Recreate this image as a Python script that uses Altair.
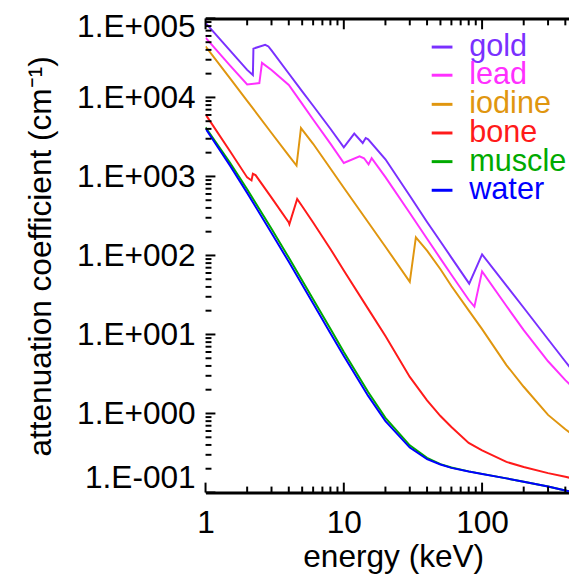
import altair as alt
import pandas as pd

FONT = "Liberation Sans"

materials = ["gold", "lead", "iodine", "bone", "muscle", "water"]
colors = ["#7a30ff", "#ff30ff", "#e0960f", "#ff1a1a", "#00aa00", "#0000ff"]

# energies in keV, attenuation coefficients in cm^-1
gold_e = [1, 1.5, 2, 2.2, 2.22, 2.7, 2.85, 3, 4, 5, 6, 8, 10, 11.9, 13.7, 14.4, 15, 20, 30, 40, 50, 60, 80.7, 100, 150, 200, 300, 400, 500]
gold_mu = [88000, 39500, 22300, 19200, 41500, 46400, 44200, 39400, 20100, 11950, 7850, 4015, 2330, 3480, 2650, 3070, 2950, 1650, 570, 265, 150, 94, 44, 103, 41.6, 21.8, 8.7, 4.55, 2.75]

lead_e = [1, 1.5, 2, 2.45, 2.56, 3, 4, 5, 6, 8, 10, 13.0, 14.0, 15.1, 15.9, 20, 30, 40, 50, 60, 80, 88, 100, 150, 200, 300, 400, 500]
lead_mu = [57000, 25500, 14600, 15200, 27400, 22300, 14400, 8300, 5260, 2600, 1480, 1800, 1700, 1420, 1700, 980, 344, 163, 91.3, 57.0, 27.5, 22.5, 63, 22.9, 11.33, 4.58, 2.64, 1.83]

iodine_e = [1, 1.5, 2, 3, 4, 4.55, 4.9, 6, 8, 10, 15, 20, 30, 33.2, 40, 50, 60, 80, 100, 150, 200, 300, 400, 500]
iodine_mu = [44300, 17550, 9070, 3550, 1830, 1373, 4100, 2590, 1260, 720, 263, 129, 46.4, 169.6, 115, 67, 41, 20.2, 11.7, 4.1, 2.18, 0.96, 0.63, 0.47]

bone_e = [1, 1.5, 2, 2.15, 2.2, 2.3, 3, 4, 4.04, 4.6, 5, 6, 8, 10, 15, 20, 30, 40, 50, 60, 80, 100, 150, 200, 300, 400, 500]
bone_mu = [6100, 2095, 972, 890, 1080, 1040, 539, 261, 249, 520, 420, 261, 121, 64.6, 21.1, 9.55, 2.9, 1.47, 0.928, 0.676, 0.424, 0.342, 0.244, 0.21, 0.176, 0.158, 0.145]

muscle_e = [1, 1.5, 2, 3, 4, 5, 6, 8, 10, 15, 20, 30, 40, 50, 60, 80, 100, 150, 200, 300, 400, 500]
muscle_mu = [4200, 1500, 690, 218, 94, 48.3, 27.9, 11.8, 6.0, 1.87, 0.88, 0.395, 0.275, 0.229, 0.207, 0.185, 0.172, 0.151, 0.137, 0.119, 0.106, 0.097]

water_e = [1, 1.5, 2, 3, 4, 5, 6, 8, 10, 15, 20, 30, 40, 50, 60, 80, 100, 150, 200, 300, 400, 500]
water_mu = [4050, 1380, 620, 193, 83, 42.6, 24.6, 10.4, 5.33, 1.67, 0.80, 0.37, 0.265, 0.226, 0.205, 0.184, 0.171, 0.151, 0.137, 0.119, 0.106, 0.097]

x_tick_values = [1, 10, 100]
x_tick_labels = ["1", "10", "100"]
x_minor_ticks = [2, 3, 4, 5, 6, 7, 8, 9, 20, 30, 40, 50, 60, 70, 80, 90, 200, 300, 400]
y_tick_values = [0.1, 1, 10, 100, 1000, 10000, 100000]
y_tick_labels = ["1.E-001", "1.E+000", "1.E+001", "1.E+002", "1.E+003", "1.E+004", "1.E+005"]
y_minor_ticks = [m * 10.0 ** k for k in range(-1, 5) for m in range(2, 10)]

x_title = "energy (keV)"
y_title = "attenuation coefficient (cm\u207b\u00b9)"

legend_y = [13.5, 42.0, 71.5, 100.5, 129.5, 158.5]

X_MAX = 425.2
W, H = 368, 480

series = {
    "gold": (gold_e, gold_mu),
    "lead": (lead_e, lead_mu),
    "iodine": (iodine_e, iodine_mu),
    "bone": (bone_e, bone_mu),
    "muscle": (muscle_e, muscle_mu),
    "water": (water_e, water_mu),
}

xs = alt.Scale(type="log", domain=[1, X_MAX], nice=False)
ys = alt.Scale(type="log", domain=[0.1, 100000], nice=False)


def label_expr(values, labels):
    vals = ",".join(str(v) for v in values)
    labs = ",".join("'" + l + "'" for l in labels)
    return f"[{labs}][indexof([{vals}], datum.value)]"


layers = []
for name, col, ly in zip(materials, colors, legend_y):
    es, ms = series[name]
    d = pd.DataFrame({"energy": es, "mu": ms, "material": name, "idx": list(range(len(es)))})
    layers.append(
        alt.Chart(d).mark_line(clip=True, strokeWidth=2).encode(
            x=alt.X("energy:Q", scale=xs, axis=None),
            y=alt.Y("mu:Q", scale=ys, axis=None),
            order=alt.Order("idx:Q"),
            color=alt.Color(
                "material:N",
                scale=alt.Scale(domain=[name], range=[col]),
                legend=alt.Legend(
                    orient="none", legendX=224, legendY=ly, title=None,
                    labelColor=col, labelFont=FONT, labelFontSize=31,
                    symbolType="stroke", symbolStrokeWidth=3, symbolSize=441,
                    labelOffset=12, padding=0,
                ),
            ),
        )
    )

bottom_axis = alt.Axis(
    orient="bottom", values=x_tick_values, labelExpr=label_expr(x_tick_values, x_tick_labels),
    labelFont=FONT, labelFontSize=32, labelColor="black", labelPadding=16, labelFlush=False,
    labelOverlap=False, ticks=False, tickSize=0, grid=False, domainColor="black", domainWidth=3,
    title=x_title, titleFont=FONT, titleFontSize=32, titleFontWeight="normal",
    titleColor="black", titleX=190, titleY=75, titleAlign="center", titleBaseline="alphabetic",
)
top_axis = alt.Axis(orient="top", labels=False, ticks=False, tickSize=0, grid=False,
                    domainColor="black", domainWidth=3, title=None)
left_axis = alt.Axis(orient="left", labels=False, ticks=False, tickSize=0, grid=False,
                     domainColor="black", domainWidth=3, title=None)

xmaj = pd.DataFrame({"v": x_tick_values})
xmin = pd.DataFrame({"v": x_minor_ticks})
ymaj = pd.DataFrame({"v": y_tick_values})
ymin = pd.DataFrame({"v": y_minor_ticks})
ylab = pd.DataFrame({"v": y_tick_values, "label": y_tick_labels})

rule = dict(color="black", strokeWidth=2)
layers += [
    alt.Chart(xmaj).mark_rule(**rule).encode(x=alt.X("v:Q", scale=xs, axis=bottom_axis), y=alt.value(H), y2=alt.value(H - 10)),
    alt.Chart(xmin).mark_rule(**rule).encode(x=alt.X("v:Q", scale=xs, axis=None), y=alt.value(H), y2=alt.value(H - 6)),
    alt.Chart(xmaj).mark_rule(**rule).encode(x=alt.X("v:Q", scale=xs, axis=top_axis), y=alt.value(0), y2=alt.value(11)),
    alt.Chart(xmin).mark_rule(**rule).encode(x=alt.X("v:Q", scale=xs, axis=None), y=alt.value(0), y2=alt.value(7)),
    alt.Chart(ymaj).mark_rule(**rule).encode(y=alt.Y("v:Q", scale=ys, axis=left_axis), x=alt.value(0), x2=alt.value(10)),
    alt.Chart(ymin).mark_rule(**rule).encode(y=alt.Y("v:Q", scale=ys, axis=None), x=alt.value(0), x2=alt.value(6)),
]

# y tick labels (first and last kept flush inside the axis span)
ymax_v, ymin_v = max(y_tick_values), min(y_tick_values)
text_style = dict(font=FONT, fontSize=32, color="black", align="right")
layers += [
    alt.Chart(ylab).transform_filter(f"datum.v > {ymin_v} && datum.v < {ymax_v}")
    .mark_text(baseline="middle", dy=1, **text_style)
    .encode(y=alt.Y("v:Q", scale=ys, axis=None), x=alt.value(-10), text="label:N"),
    alt.Chart(ylab).transform_filter(f"datum.v == {ymax_v}")
    .mark_text(baseline="top", dy=-6, **text_style)
    .encode(y=alt.Y("v:Q", scale=ys, axis=None), x=alt.value(-10), text="label:N"),
    alt.Chart(ylab).transform_filter(f"datum.v == {ymin_v}")
    .mark_text(baseline="bottom", dy=2, **text_style)
    .encode(y=alt.Y("v:Q", scale=ys, axis=None), x=alt.value(-10), text="label:N"),
    alt.Chart(pd.DataFrame({"t": [y_title]}))
    .mark_text(angle=270, align="center", baseline="alphabetic", font=FONT, fontSize=32, color="black")
    .encode(x=alt.value(-156), y=alt.value(H / 2 + 1), text="t:N"),
]

chart = (
    alt.layer(*layers)
    .resolve_scale(color="independent")
    .resolve_axis(x="independent")
    .properties(
        width=W, height=H,
        autosize=alt.AutoSizeParams(type="none"),
        padding={"left": 200, "top": 7, "right": 0, "bottom": 82},
        background="white",
    )
    .configure_view(stroke=None)
)

chart.save("out.html", embed_options={"renderer": "svg", "actions": False})
